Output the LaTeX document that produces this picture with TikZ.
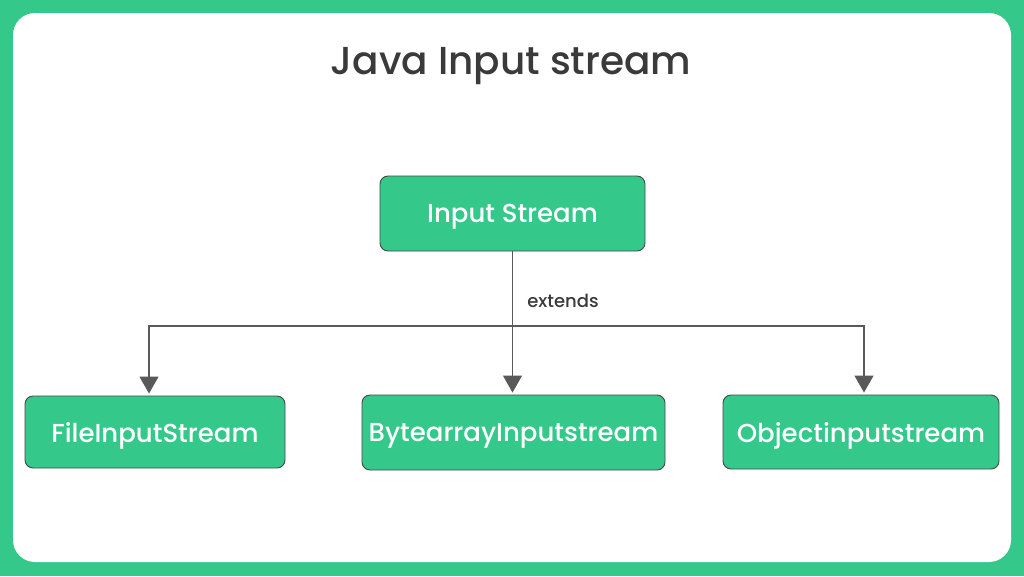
\documentclass[tikz,border=0pt]{standalone}
\usepackage{fontspec}
\setmainfont{Poppins}
\newfontfamily\poppinsmed{Poppins Medium}
\usepackage{xcolor}
\definecolor{streamgreen}{RGB}{52,201,138}
\definecolor{darkline}{RGB}{70,70,70}
\definecolor{titlegray}{RGB}{58,58,58}
\usetikzlibrary{positioning,arrows.meta}

\tikzset{
	streambox/.style={
		draw=darkline,        % dark border
		line width=0.9pt,     % border thickness
		fill=streamgreen,     % green fill
		text=white,           % white text
		rectangle,            % shape
		rounded corners=8pt,  % soft rounding
		inner sep=2pt,        % padding
		text depth=0pt,       % drop text a little
		font=\poppinsmed\fontsize{26}{30}\selectfont
	},
	extendline/.style={
		draw=darkline!90,
		line width=1.1pt,
		-{Triangle[width=19pt,length=17pt]},
		shorten >=2pt
	}
}

\begin{document}
\begin{tikzpicture}[x=1pt,y=-1pt]
	% background frame
	\fill[streamgreen] (0,0) rectangle (1024,576);
	\fill[white,rounded corners=22pt] (13,13) rectangle (1011,562);
	\useasboundingbox (0,0) rectangle (1024,576);

	\node[text=titlegray,font=\poppinsmed\fontsize{39}{44}\selectfont] (title) at (511,66) {Java Input stream};

	\node[streambox,minimum width=265pt,minimum height=75pt] (root) at (512.5,213.5) {Input Stream};
	\node[streambox,minimum width=260pt,minimum height=72pt] (file) at (155,432) {FileInputStream};
	\node[streambox,minimum width=303pt,minimum height=75pt] (bytearr) at (513.5,432.5) {BytearrayInputstream};
	\node[streambox,minimum width=276pt,minimum height=74pt] (objin) at (861,432) {Objectinputstream};

	\coordinate (split) at (512,326);
	\node[text=titlegray,font=\poppinsmed\fontsize{18}{20}\selectfont] (ext) at (563,301) {extends};

	\draw[extendline] (root.south) -- (root.south |- bytearr.north);
	\draw[extendline] (split) -| ([xshift=-6pt]file.north);
	\draw[extendline] (split) -| ([xshift=3pt]objin.north);
\end{tikzpicture}
\end{document}
